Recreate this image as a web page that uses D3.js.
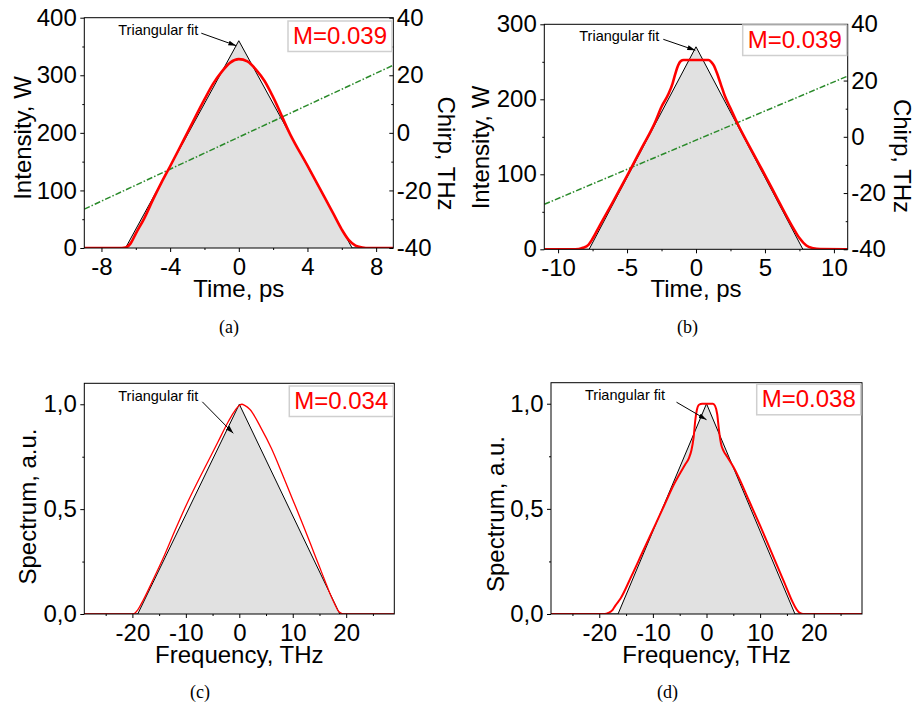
<!DOCTYPE html>
<html><head><meta charset="utf-8">
<script src="https://cdn.jsdelivr.net/npm/d3@7/dist/d3.min.js"></script>
<style>
body{margin:0;background:#fff;}
svg{display:block;font-family:"Liberation Sans",Arial,sans-serif;}
</style></head>
<body>
<svg id="chart" width="913" height="709"></svg>
<script>
// ---------- DATA ----------
// Panel (a): temporal intensity
const aTime      = [-9,-7,-6.6,-6.3,-6,-5.5,-5,-4.5,-4,-3,-2,-1.5,-1,-0.5,0,0.5,1,1.5,2,3,4,5,5.5,6,6.4,6.8,7.2,7.6,9];
const aIntensity = [0,0,1,8,25,52,84,114,142,200,258,285,306,322,328,324,310,290,262,197,143,88,60,32,14,4,1,0,0];
const aTriTime   = [-9,-6.6,0,6.6,9];
const aTriValue  = [0,0,360,0,0];
const aChirpTime = [-9,0,9];
const aChirpValue= [-26.5,-1.5,23.5];
const aXTicks = [-8,-4,0,4,8],  aXLabels = ["-8","-4","0","4","8"], aXMinor = [-6,-2,2,6];
const aYTicks = [0,100,200,300,400], aYLabels = ["0","100","200","300","400"], aYMinor = [50,150,250,350];
const chirpTicks = [-40,-20,0,20,40], chirpLabels = ["-40","-20","0","20","40"], chirpMinor = [-30,-10,10,30];

// Panel (b): temporal intensity
const bTime      = [-11,-9,-8.5,-8.2,-7.8,-7.5,-7,-6,-5,-4,-3,-2.5,-2,-1.7,-1.5,-1.3,-1.1,-0.9,0,0.9,1.1,1.3,1.5,1.8,2.1,2.5,3,4,5,6,7,7.5,8,8.5,9,11];
const bIntensity = [0,0,0.5,2,6,14,31,64,98,133,168,190,207,221,234,245,251,252.5,252.5,252.5,250,245,236,220,204,188,168,133,99,64,30,15,5,1.5,0.3,0];
const bTriTime   = [-11,-7.75,0,7.75,11];
const bTriValue  = [0,0,270,0,0];
const bChirpTime = [-11,0,11];
const bChirpValue= [-24,-1.2,21.6];
const bXTicks = [-10,-5,0,5,10], bXLabels = ["-10","-5","0","5","10"], bXMinor = [-7.5,-2.5,2.5,7.5];
const bYTicks = [0,100,200,300], bYLabels = ["0","100","200","300"], bYMinor = [50,150,250];

// Panel (c): spectrum
const cFreq     = [-29,-21,-20,-19.5,-19,-18,-16,-14,-12,-10,-8,-6,-4,-2,-1,0,0.5,1,2,4,6,8,10,12,14,15,16,17,18,18.5,19,19.5,29];
const cSpectrum = [0,0,0.001,0.005,0.02,0.065,0.17,0.28,0.4,0.515,0.62,0.72,0.82,0.92,0.963,0.994,1.0,0.995,0.975,0.89,0.79,0.67,0.545,0.42,0.29,0.225,0.16,0.095,0.04,0.015,0.004,0,0];
const cTriFreq  = [-29,-19,0,18.8,29];
const cTriValue = [0,0,1,0,0];

// Panel (d): spectrum
const dFreq     = [-29,-19,-18.3,-17.5,-17,-16,-14,-12,-10,-8,-6,-4,-3.3,-2.8,-2.4,-2.1,-1.8,-1.4,-0.8,0.5,1.2,1.6,2,2.3,2.7,3.2,3.8,5,6,8,10,12,14,15,16,16.5,17,17.5,18,29];
const dSpectrum = [0,0,0.005,0.02,0.04,0.075,0.18,0.29,0.4,0.51,0.62,0.71,0.74,0.78,0.84,0.92,0.97,0.995,1.0,1.0,1.0,0.99,0.95,0.88,0.81,0.775,0.75,0.7,0.65,0.535,0.42,0.3,0.18,0.12,0.06,0.035,0.015,0.004,0,0];
const dTriFreq  = [-29,-16.5,0,16.5,29];
const dTriValue = [0,0,1,0,0];

const fXTicks = [-20,-10,0,10,20], fXLabels = ["-20","-10","0","10","20"], fXMinor = [-25,-15,-5,5,15,25];
const sYTicks = [0,0.5,1.0], sYLabels = ["0,0","0,5","1,0"], sYMinor = [0.25,0.75];

const mLabels = ["M=0.039","M=0.039","M=0.034","M=0.038"];
const panelLabels = ["(a)","(b)","(c)","(d)"];
const fitLabel = "Triangular fit";

// ---------- DRAWING ----------
const svg = d3.select("#chart");
const defs = svg.append("defs");
defs.append("marker").attr("id","arr").attr("viewBox","0 -3 8 6").attr("refX",8).attr("refY",0)
  .attr("markerWidth",8).attr("markerHeight",6).attr("markerUnits","userSpaceOnUse").attr("orient","auto")
  .append("path").attr("d","M0,-2.5L8,0L0,2.5Z").attr("fill","#000");

function zip(a,b){ return a.map((v,i)=>[v,b[i]]); }

function panel(o, idx){
  const g = svg.append("g");
  const x = d3.scaleLinear().domain(o.xDomain).range([o.left,o.right]);
  const y = d3.scaleLinear().domain(o.yDomain).range([o.bottom,o.top]);
  const clipId = "clip"+idx;
  defs.append("clipPath").attr("id",clipId).append("rect")
    .attr("x",o.left).attr("y",o.top).attr("width",o.right-o.left).attr("height",o.bottom-o.top);
  const pg = g.append("g").attr("clip-path",`url(#${clipId})`);
  const tri = zip(o.triX,o.triY);
  pg.append("path").datum(tri)
    .attr("d",d3.area().x(d=>x(d[0])).y0(y(0)).y1(d=>y(d[1])))
    .attr("fill","#e1e1e1");
  pg.append("path").datum(tri)
    .attr("d",d3.line().x(d=>x(d[0])).y(d=>y(d[1])))
    .attr("fill","none").attr("stroke","#000").attr("stroke-width",1);
  let y2 = null;
  if (o.chirpX){
    y2 = d3.scaleLinear().domain([-40,40]).range([o.bottom,o.top]);
    pg.append("path").datum(zip(o.chirpX,o.chirpY))
      .attr("d",d3.line().x(d=>x(d[0])).y(d=>y2(d[1])))
      .attr("fill","none").attr("stroke","#2a8a2a").attr("stroke-width",1.5)
      .attr("stroke-dasharray","6,2,1.5,2");
  }
  pg.append("path").datum(zip(o.redX,o.redY))
    .attr("d",d3.line().curve(d3.curveMonotoneX).x(d=>x(d[0])).y(d=>y(d[1])))
    .attr("fill","none").attr("stroke","#ff0000").attr("stroke-width",o.redW);

  // frame
  g.append("rect").attr("x",o.left).attr("y",o.top).attr("width",o.right-o.left).attr("height",o.bottom-o.top)
    .attr("fill","none").attr("stroke","#000").attr("stroke-width",1);

  function styleAxis(sel){
    sel.select(".domain").remove();
    sel.selectAll("line").attr("stroke","#000");
    sel.selectAll("text").attr("font-size",24).attr("fill","#000").attr("font-family","Liberation Sans, Arial, sans-serif");
  }
  // bottom axis
  g.append("g").attr("transform",`translate(0,${o.bottom})`)
    .call(d3.axisBottom(x).tickValues(o.xMinor).tickSize(2).tickFormat("")).call(styleAxis);
  g.append("g").attr("transform",`translate(0,${o.bottom})`)
    .call(d3.axisBottom(x).tickValues(o.xTicks).tickSize(4).tickPadding(6).tickFormat((d,i)=>o.xLabels[i])).call(styleAxis);
  // left axis
  g.append("g").attr("transform",`translate(${o.left},0)`)
    .call(d3.axisLeft(y).tickValues(o.yMinor).tickSize(2).tickFormat("")).call(styleAxis);
  g.append("g").attr("transform",`translate(${o.left},0)`)
    .call(d3.axisLeft(y).tickValues(o.yTicks).tickSize(4).tickPadding(3.5).tickFormat((d,i)=>o.yLabels[i])).call(styleAxis);
  // right axis
  if (y2){
    g.append("g").attr("transform",`translate(${o.right},0)`)
      .call(d3.axisRight(y2).tickValues(chirpMinor).tickSize(-2).tickFormat("")).call(styleAxis);
    g.append("g").attr("transform",`translate(${o.right},0)`)
      .call(d3.axisRight(y2).tickValues(chirpTicks).tickSize(-4).tickPadding(3.5).tickFormat((d,i)=>chirpLabels[i])).call(styleAxis);
    g.append("text").attr("transform",`translate(${o.r2TitleX},${o.r2TitleY}) rotate(90)`)
      .attr("text-anchor","middle").attr("font-size",24).text("Chirp, THz");
  }
  // titles
  g.append("text").attr("x",(o.left+o.right)/2).attr("y",o.xTitleY).attr("text-anchor","middle")
    .attr("font-size",24).text(o.xTitle);
  g.append("text").attr("transform",`translate(${o.yTitleX},${o.yTitleY}) rotate(-90)`)
    .attr("text-anchor","middle").attr("font-size",24).text(o.yTitle);

  // M box
  g.append("rect").attr("x",o.right-o.boxR-104).attr("y",o.top+o.boxT).attr("width",104).attr("height",30.5)
    .attr("fill","#fff").attr("stroke","#cfcfcf").attr("stroke-width",1.5);
  g.append("text").attr("x",o.right-o.boxR-52).attr("y",o.top+o.boxT+23).attr("text-anchor","middle")
    .attr("fill","#ff0000").attr("font-size",24).text(mLabels[idx]);

  // annotation
  g.append("text").attr("x",o.left+o.annX).attr("y",o.top+o.annY).attr("font-size",14.5).text(fitLabel);
  g.append("line").attr("x1",o.left+o.arr[0]).attr("y1",o.top+o.arr[1])
    .attr("x2",o.left+o.arr[2]).attr("y2",o.top+o.arr[3])
    .attr("stroke","#000").attr("stroke-width",1).attr("marker-end","url(#arr)");

  // panel label
  svg.append("text").attr("x",o.labX).attr("y",o.labY).attr("text-anchor","middle")
    .attr("font-family","Liberation Serif, Times New Roman, serif").attr("font-size",18).text(panelLabels[idx]);
}

panel({left:84.3,right:393.3,top:17.7,bottom:248,xDomain:[-9,9],yDomain:[0,400],
  redX:aTime,redY:aIntensity,triX:aTriTime,triY:aTriValue,chirpX:aChirpTime,chirpY:aChirpValue,redW:2.6,
  xTicks:aXTicks,xLabels:aXLabels,xMinor:aXMinor,yTicks:aYTicks,yLabels:aYLabels,yMinor:aYMinor,
  xTitle:"Time, ps",xTitleY:297,yTitle:"Intensity, W",yTitleX:30.5,yTitleY:138,r2TitleX:438,r2TitleY:153.5,
  boxR:1.3,boxT:3.3,annX:34,annY:17.5,arr:[117,15.5,152,28],labX:229,labY:333},0);

panel({left:544.3,right:847.7,top:24.3,bottom:249.3,xDomain:[-11,11],yDomain:[0,300],
  redX:bTime,redY:bIntensity,triX:bTriTime,triY:bTriValue,chirpX:bChirpTime,chirpY:bChirpValue,redW:2.6,
  xTicks:bXTicks,xLabels:bXLabels,xMinor:bXMinor,yTicks:bYTicks,yLabels:bYLabels,yMinor:bYMinor,
  xTitle:"Time, ps",xTitleY:297,yTitle:"Intensity, W",yTitleX:489,yTitleY:147.5,r2TitleX:893.5,r2TitleY:156,
  boxR:1,boxT:0.7,annX:35,annY:17,arr:[119,15,151,26],labX:687.5,labY:333},1);

panel({left:84.3,right:394.3,top:383.3,bottom:614,xDomain:[-29,29],yDomain:[0,1.1],
  redX:cFreq,redY:cSpectrum,triX:cTriFreq,triY:cTriValue,redW:1.3,
  xTicks:fXTicks,xLabels:fXLabels,xMinor:fXMinor,yTicks:sYTicks,yLabels:sYLabels,yMinor:sYMinor,
  xTitle:"Frequency, THz",xTitleY:662.5,yTitle:"Spectrum, a.u.",yTitleX:35.5,yTitleY:506.5,
  boxR:1,boxT:2.7,annX:34,annY:17.5,arr:[118,18.5,149,50],labX:200,labY:698},2);

panel({left:551,right:862,top:382.7,bottom:614,xDomain:[-29,29],yDomain:[0,1.1],
  redX:dFreq,redY:dSpectrum,triX:dTriFreq,triY:dTriValue,redW:2,
  xTicks:fXTicks,xLabels:fXLabels,xMinor:fXMinor,yTicks:sYTicks,yLabels:sYLabels,yMinor:sYMinor,
  xTitle:"Frequency, THz",xTitleY:662.5,yTitle:"Spectrum, a.u.",yTitleX:504,yTitleY:514,
  boxR:1.3,boxT:1.6,annX:34,annY:17,arr:[125.5,19.5,155.5,37],labX:667.5,labY:698},3);
</script>
</body></html>
